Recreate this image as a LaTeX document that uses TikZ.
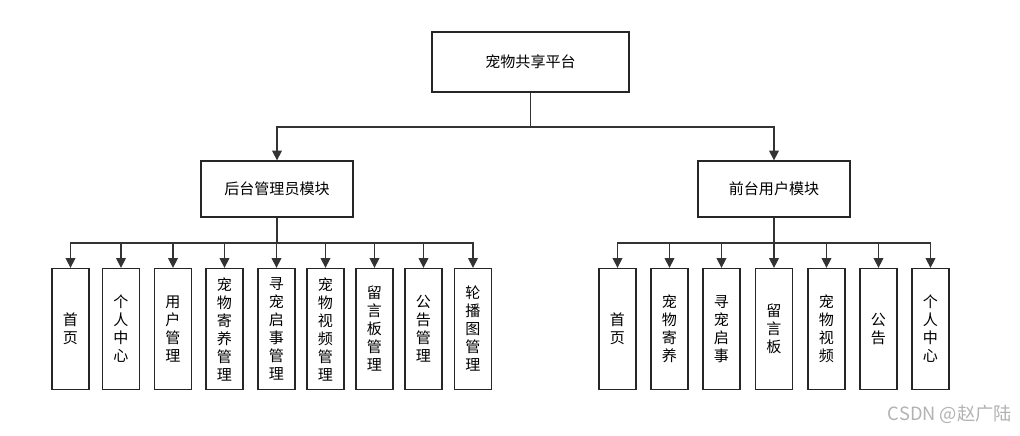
\documentclass[tikz,border=0pt]{standalone}
\usepackage{fontspec}
\newfontfamily\cjk{Noto Sans CJK SC}
\usepackage{tikz}
\usetikzlibrary{arrows.meta, positioning}

\begin{document}
\begin{tikzpicture}
  [
    x=0.025cm, y=-0.025cm,
    Box/.style={rectangle, draw=black!85, line width=0.9pt, fill=white, minimum width=4.925cm, minimum height=1.5cm, font=\cjk\fontsize{10.7}{12.8}\selectfont},
    Module/.style={Box, minimum width=3.8cm, minimum height=1.4cm},
    Leaf/.style={Box, minimum width=0.925cm, minimum height=3.025cm, inner sep=0pt, align=center},
    Link/.style={draw=black!80, line width=0.9pt, -{Triangle[width=7pt, length=7pt]}},
    Mark/.style={text=black!30, font=\cjk\fontsize{13}{15}\selectfont}
  ]
  \useasboundingbox (0,0) rectangle (1020,435);
  % Nodes
  \node[Box] (root) at (530.5, 62) {宠物共享平台};
  \node[Module] (back) at (277, 189) {后台管理员模块};
  \node[Module] (front) at (774, 189) {前台用户模块};

  \node[Leaf] (b1) at (70.5, 329) {首\\页};
  \node[Leaf] (b2) at (121, 329) {个\\人\\中\\心};
  \node[Leaf] (b3) at (173, 329) {用\\户\\管\\理};
  \node[Leaf] (b4) at (224.5, 329) {宠\\物\\寄\\养\\管\\理};
  \node[Leaf] (b5) at (276.5, 329) {寻\\宠\\启\\事\\管\\理};
  \node[Leaf] (b6) at (325.5, 329) {宠\\物\\视\\频\\管\\理};
  \node[Leaf] (b7) at (374.5, 329) {留\\言\\板\\管\\理};
  \node[Leaf] (b8) at (423.5, 329) {公\\告\\管\\理};
  \node[Leaf] (b9) at (473, 329) {轮\\播\\图\\管\\理};

  \node[Leaf] (f1) at (617.5, 329) {首\\页};
  \node[Leaf] (f2) at (669.5, 329) {宠\\物\\寄\\养};
  \node[Leaf] (f3) at (721.5, 329) {寻\\宠\\启\\事};
  \node[Leaf] (f4) at (774, 329) {留\\言\\板};
  \node[Leaf] (f5) at (826.5, 329) {宠\\物\\视\\频};
  \node[Leaf] (f6) at (878.5, 329) {公\\告};
  \node[Leaf] (f7) at (930.5, 329) {个\\人\\中\\心};

  \node[Mark] (mark) at (950, 414) {CSDN @赵广陆};

  % Bus points
  \coordinate (tbus) at (530.5, 127);
  \coordinate (bbus) at (277, 243);
  \coordinate (fbus) at (774, 243);

  % Lines
  \path [Link] (root.south) -- (tbus) -| (back.north);
  \path [Link] (root.south) -- (tbus) -| (front.north);

  \path [Link] (back.south) -- (bbus) -| (b1.north);
  \path [Link] (back.south) -- (bbus) -| (b2.north);
  \path [Link] (back.south) -- (bbus) -| (b3.north);
  \path [Link] (back.south) -- (bbus) -| (b4.north);
  \path [Link] (back.south) -- (bbus) -| (b5.north);
  \path [Link] (back.south) -- (bbus) -| (b6.north);
  \path [Link] (back.south) -- (bbus) -| (b7.north);
  \path [Link] (back.south) -- (bbus) -| (b8.north);
  \path [Link] (back.south) -- (bbus) -| (b9.north);

  \path [Link] (front.south) -- (fbus) -| (f1.north);
  \path [Link] (front.south) -- (fbus) -| (f2.north);
  \path [Link] (front.south) -- (fbus) -| (f3.north);
  \path [Link] (front.south) -- (fbus) -| (f4.north);
  \path [Link] (front.south) -- (fbus) -| (f5.north);
  \path [Link] (front.south) -- (fbus) -| (f6.north);
  \path [Link] (front.south) -- (fbus) -| (f7.north);
\end{tikzpicture}
\end{document}
